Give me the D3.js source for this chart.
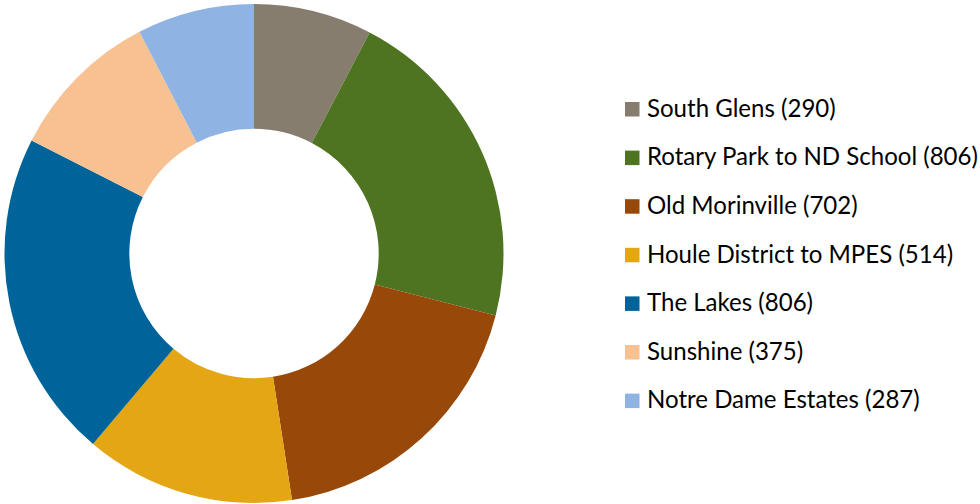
<!DOCTYPE html>
<html><head><meta charset="utf-8">
<script src="https://cdn.jsdelivr.net/npm/d3@7"></script>
<style>html,body{margin:0;padding:0;background:#fff;}svg{display:block;}</style>
</head><body>
<svg id="chart" width="980" height="504"></svg>
<script>
const categories = ["South Glens", "Rotary Park to ND School", "Old Morinville", "Houle District to MPES", "The Lakes", "Sunshine", "Notre Dame Estates"];
const values = [290, 806, 702, 514, 806, 375, 287];
const colors = ["#877D6E", "#4E7421", "#984809", "#E5A615", "#00649A", "#F8C192", "#8FB3E3"];

const svg = d3.select("#chart");
const cx = 254, cy = 253.5, outerR = 249.5, innerR = 124.7;

const pie = d3.pie().sort(null).value(d => d.v);
const data = categories.map((c, i) => ({c, v: values[i], col: colors[i]}));
const arc = d3.arc().innerRadius(innerR).outerRadius(outerR);

svg.append("g").attr("transform", `translate(${cx},${cy})`)
  .selectAll("path").data(pie(data)).join("path")
  .attr("d", arc).attr("fill", d => d.data.col);

// legend
const legX = 625, legY0 = 102, legStep = 48.6, sq = 14.5;
const font = "Lato, 'Open Sans', sans-serif";
const lg = svg.append("g");
const items = lg.selectAll("g").data(data).join("g")
  .attr("transform", (d, i) => `translate(${legX},${legY0 + i * legStep})`);
items.append("rect").attr("width", sq).attr("height", sq).attr("fill", d => d.col);
const texts = items.append("text")
  .attr("x", 22).attr("y", 14.8)
  .attr("font-family", font).attr("font-size", 22).attr("fill", "#000")
  .text(d => `${d.c} (${d.v})`);
let maxW = 0;
texts.each(function(){ maxW = Math.max(maxW, this.getComputedTextLength()); });
const fs = 22 * 331 / maxW;
texts.attr("font-size", fs);
</script>
</body></html>
